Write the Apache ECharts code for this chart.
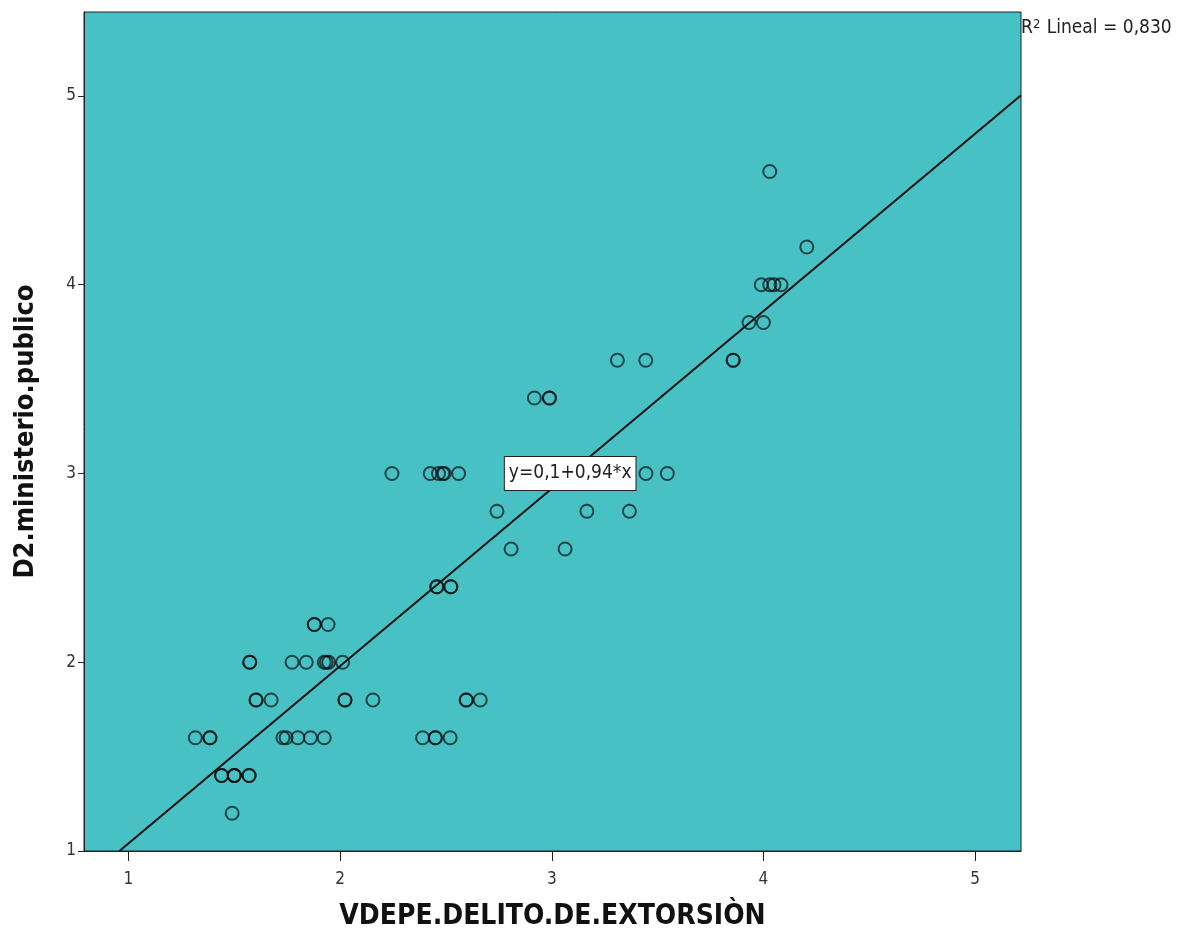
<!DOCTYPE html>
<html>
<head>
<meta charset="utf-8">
<script src="https://cdn.jsdelivr.net/npm/echarts@6/dist/echarts.min.js"></script>
<style>
html,body{margin:0;padding:0;background:#fff;}
#chart{width:1185px;height:934px;}
</style>
</head>
<body>
<div id="chart"></div>
<script>
// Data (x = VDEPE.DELITO.DE.EXTORSIÒN, y = D2.ministerio.publico)
const xVals = [
  1.49,
  1.44, 1.44, 1.50, 1.50, 1.50, 1.57, 1.57,
  1.316, 1.385, 1.385, 1.73, 1.745, 1.80, 1.86, 1.925, 2.39, 2.45, 2.45, 2.52,
  1.603, 1.603, 1.674, 2.023, 2.023, 2.155, 2.596, 2.596, 2.662,
  1.573, 1.573, 1.773, 1.84, 1.925, 1.935, 1.946, 2.012,
  1.878, 1.878, 1.943,
  2.457, 2.457, 2.523, 2.523,
  2.808, 3.063,
  2.741, 3.166, 3.367,
  2.245, 2.426, 2.465, 2.485, 2.492, 2.56, 3.445, 3.546,
  2.918, 2.989, 2.989,
  3.31, 3.444, 3.857, 3.857,
  3.932, 4.0,
  3.99, 4.03, 4.05, 4.083,
  4.205,
  4.03
];
const yVals = [
  1.2,
  1.4, 1.4, 1.4, 1.4, 1.4, 1.4, 1.4,
  1.6, 1.6, 1.6, 1.6, 1.6, 1.6, 1.6, 1.6, 1.6, 1.6, 1.6, 1.6,
  1.8, 1.8, 1.8, 1.8, 1.8, 1.8, 1.8, 1.8, 1.8,
  2.0, 2.0, 2.0, 2.0, 2.0, 2.0, 2.0, 2.0,
  2.2, 2.2, 2.2,
  2.4, 2.4, 2.4, 2.4,
  2.6, 2.6,
  2.8, 2.8, 2.8,
  3.0, 3.0, 3.0, 3.0, 3.0, 3.0, 3.0, 3.0,
  3.4, 3.4, 3.4,
  3.6, 3.6, 3.6, 3.6,
  3.8, 3.8,
  4.0, 4.0, 4.0, 4.0,
  4.2,
  4.6
];
const xTicks = [1, 2, 3, 4, 5];
const yTicks = [1, 2, 3, 4, 5];
const fitCoef = [0.1, 0.94];           // intercept, slope
const fitLabel = 'y=0,1+0,94*x';
const r2Label = 'R{sup|2} Lineal = 0,830';
const xTitle = 'VDEPE.DELITO.DE.EXTORSIÒN';
const yTitle = 'D2.ministerio.publico';

const xMin = 0.79, xMax = 5.217, yMin = 1, yMax = 5.445;
const FONT = "'Liberation Sans Narrow', 'DejaVu Sans Condensed', 'Liberation Sans', Arial, sans-serif";

const points = xVals.map((x, i) => [x, yVals[i]]);
const fitX0 = (yMin - fitCoef[0]) / fitCoef[1];
const fitLine = [fitX0, xMax].map(x => [x, fitCoef[0] + fitCoef[1] * x]);

const chart = echarts.init(document.getElementById('chart'));
chart.setOption({
  backgroundColor: '#ffffff',
  animation: false,
  textStyle: { fontFamily: FONT },
  grid: {
    left: 84, right: 164, top: 12, bottom: 83,
    containLabel: false, outerBoundsMode: 'none',
    show: true, backgroundColor: '#48c1c5', borderColor: '#222', borderWidth: 1
  },
  xAxis: {
    type: 'value', min: xMin, max: xMax,
    name: xTitle, nameLocation: 'middle', nameGap: 52,
    nameTextStyle: { fontFamily: FONT, fontWeight: 'bold', fontSize: 28, color: '#111' },
    axisLine: { show: true, onZero: false, lineStyle: { color: '#222', width: 1 } },
    axisTick: { show: true, inside: false, length: 10, customValues: xTicks, lineStyle: { color: '#222' } },
    axisLabel: { customValues: xTicks, margin: 20, fontSize: 17, color: '#333', fontFamily: FONT },
    splitLine: { show: false }
  },
  yAxis: {
    type: 'value', min: yMin, max: yMax,
    name: yTitle, nameLocation: 'middle', nameGap: 45, nameRotate: 90,
    nameTextStyle: { fontFamily: FONT, fontWeight: 'bold', fontSize: 27, color: '#111' },
    axisLine: { show: true, onZero: false, lineStyle: { color: '#222', width: 1 } },
    axisTick: { show: true, inside: false, length: 6, customValues: yTicks, lineStyle: { color: '#222' } },
    axisLabel: { customValues: yTicks, margin: 8, fontSize: 17, color: '#333', fontFamily: FONT },
    splitLine: { show: false }
  },
  series: [
    {
      type: 'line',
      data: fitLine,
      symbol: 'none',
      lineStyle: { color: '#111', width: 2 },
      z: 2,
      markPoint: {
        symbol: 'rect', symbolSize: 1,
        itemStyle: { color: 'rgba(0,0,0,0)' },
        data: [{
          coord: [3.087, 3.0],
          label: {
            show: true, formatter: fitLabel, position: 'inside',
            fontFamily: FONT, fontSize: 19, color: '#222',
            backgroundColor: '#fff', borderColor: '#222', borderWidth: 1,
            padding: [7, 4, 7, 4]
          }
        }]
      }
    },
    {
      type: 'scatter',
      data: points,
      symbol: 'circle',
      symbolSize: 13,
      itemStyle: { color: 'rgba(0,0,0,0)', borderColor: 'rgba(10,10,10,0.85)', borderWidth: 2 },
      z: 1
    }
  ],
  graphic: [{
    type: 'text', left: 1021, top: 18,
    style: {
      text: r2Label, fontFamily: FONT, fontSize: 19, fill: '#222',
      rich: { sup: { fontSize: 13, verticalAlign: 'top', padding: [0, 1, 8, 0], fontFamily: FONT } }
    }
  }]
});
</script>
</body>
</html>
